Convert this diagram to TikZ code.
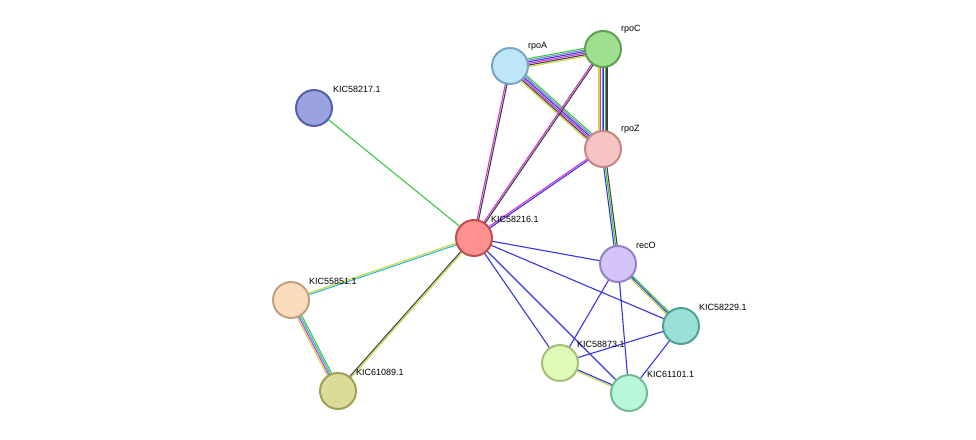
\documentclass[tikz,border=0pt]{standalone}
\usepackage{fontspec}
\setmainfont{Liberation Sans}
\usetikzlibrary{calc}
\definecolor{cNb}{HTML}{3CC83C}
\definecolor{cCo}{HTML}{3535E6}
\definecolor{cEx}{HTML}{D633D6}
\definecolor{cDb}{HTML}{33B8D6}
\definecolor{cTm}{HTML}{C8D83C}
\definecolor{cCx}{HTML}{404040}
\definecolor{cHo}{HTML}{8080D8}
\newcommand{\medge}[4]{% from, to, count, colours
  \foreach \c [count=\i] in {#4}
    \draw[\c, line width=1.1pt]
      ($(#1)!{(\i-(#3+1)/2)*1.6pt}!90:(#2)$) -- ($(#2)!{(\i-(#3+1)/2)*1.6pt}!-90:(#1)$);}
\tikzset{prot/.style={circle, minimum size=36pt, inner sep=0pt, line width=2pt},
  lbl/.style={font=\fontsize{9pt}{10pt}\selectfont, anchor=south west, inner sep=1pt}}
\begin{document}
\begin{tikzpicture}[x=1pt, y=-1pt]
    \useasboundingbox (0,0) rectangle (976,439);
    % Define coordinates of proteins
    \coordinate (k217) at (314,108);
    \coordinate (rpoA) at (510,66);
    \coordinate (rpoC) at (603,49);
    \coordinate (rpoZ) at (603,149);
    \coordinate (k216) at (474,238);
    \coordinate (recO) at (618,264);
    \coordinate (k229) at (681,326);
    \coordinate (k873) at (560,363);
    \coordinate (k101) at (629,393);
    \coordinate (k851) at (291,300);
    \coordinate (k089) at (338,391);

    % Define edges
    \medge{k217}{k216}{1}{cNb}
    \medge{rpoA}{rpoC}{6}{cTm,cCx,cEx,cCo,cHo,cNb}
    \medge{rpoA}{rpoZ}{6}{cTm,cCx,cEx,cCo,cHo,cNb}
    \medge{rpoC}{rpoZ}{6}{cTm,cEx,cHo,cCo,cNb,cCx}
    \medge{rpoA}{k216}{2}{cEx,cCx}
    \medge{rpoC}{k216}{2}{cEx,cCx}
    \medge{rpoZ}{k216}{2}{cEx,cCo}
    \medge{rpoZ}{recO}{3}{cCo,cNb,cCx}
    \medge{k216}{recO}{1}{cCo}
    \medge{k216}{k229}{1}{cCo}
    \medge{k216}{k873}{1}{cCo}
    \medge{k216}{k101}{1}{cCo}
    \medge{recO}{k229}{3}{cTm,cCo,cNb}
    \medge{recO}{k873}{1}{cCo}
    \medge{recO}{k101}{1}{cCo}
    \medge{k229}{k873}{1}{cCo}
    \medge{k229}{k101}{1}{cCo}
    \medge{k873}{k101}{2}{cTm,cCo}
    \medge{k216}{k851}{2}{cTm,cDb}
    \medge{k216}{k089}{2}{cCx,cTm}
    \medge{k851}{k089}{4}{cTm,cEx,cDb,cNb}

    % Define proteins
    \node[prot, fill={rgb,255:red,154;green,163;blue,224}, draw={rgb,255:red,85;green,96;blue,168}] (n217) at (k217) {};
    \node[prot, fill={rgb,255:red,189;green,230;blue,248}, draw={rgb,255:red,120;green,165;blue,195}] (nA) at (rpoA) {};
    \node[prot, fill={rgb,255:red,159;green,224;blue,144}, draw={rgb,255:red,95;green,160;blue,85}] (nC) at (rpoC) {};
    \node[prot, fill={rgb,255:red,247;green,196;blue,196}, draw={rgb,255:red,195;green,135;blue,135}] (nZ) at (rpoZ) {};
    \node[prot, fill={rgb,255:red,255;green,144;blue,144}, draw={rgb,255:red,190;green,80;blue,80}] (n216) at (k216) {};
    \node[prot, fill={rgb,255:red,212;green,196;blue,248}, draw={rgb,255:red,150;green,130;blue,200}] (nO) at (recO) {};
    \node[prot, fill={rgb,255:red,152;green,224;blue,216}, draw={rgb,255:red,85;green,160;blue,150}] (n229) at (k229) {};
    \node[prot, fill={rgb,255:red,224;green,248;blue,184}, draw={rgb,255:red,165;green,190;blue,120}] (n873) at (k873) {};
    \node[prot, fill={rgb,255:red,184;green,248;blue,216}, draw={rgb,255:red,115;green,185;blue,150}] (n101) at (k101) {};
    \node[prot, fill={rgb,255:red,253;green,220;blue,188}, draw={rgb,255:red,195;green,160;blue,125}] (n851) at (k851) {};
    \node[prot, fill={rgb,255:red,220;green,220;blue,152}, draw={rgb,255:red,160;green,160;blue,85}] (n089) at (k089) {};

    % Define labels
    \node[lbl] at ($(k217)+(18,-14)$) {KIC58217.1};
    \node[lbl] at ($(rpoA)+(17,-14)$) {rpoA};
    \node[lbl] at ($(rpoC)+(17,-14)$) {rpoC};
    \node[lbl] at ($(rpoZ)+(17,-14)$) {rpoZ};
    \node[lbl] at ($(k216)+(16,-14)$) {KIC58216.1};
    \node[lbl] at ($(recO)+(17,-14)$) {recO};
    \node[lbl] at ($(k229)+(17,-14)$) {KIC58229.1};
    \node[lbl] at ($(k873)+(16,-14)$) {KIC58873.1};
    \node[lbl] at ($(k101)+(17,-14)$) {KIC61101.1};
    \node[lbl] at ($(k851)+(17,-14)$) {KIC55851.1};
    \node[lbl] at ($(k089)+(17,-14)$) {KIC61089.1};
\end{tikzpicture}
\end{document}
